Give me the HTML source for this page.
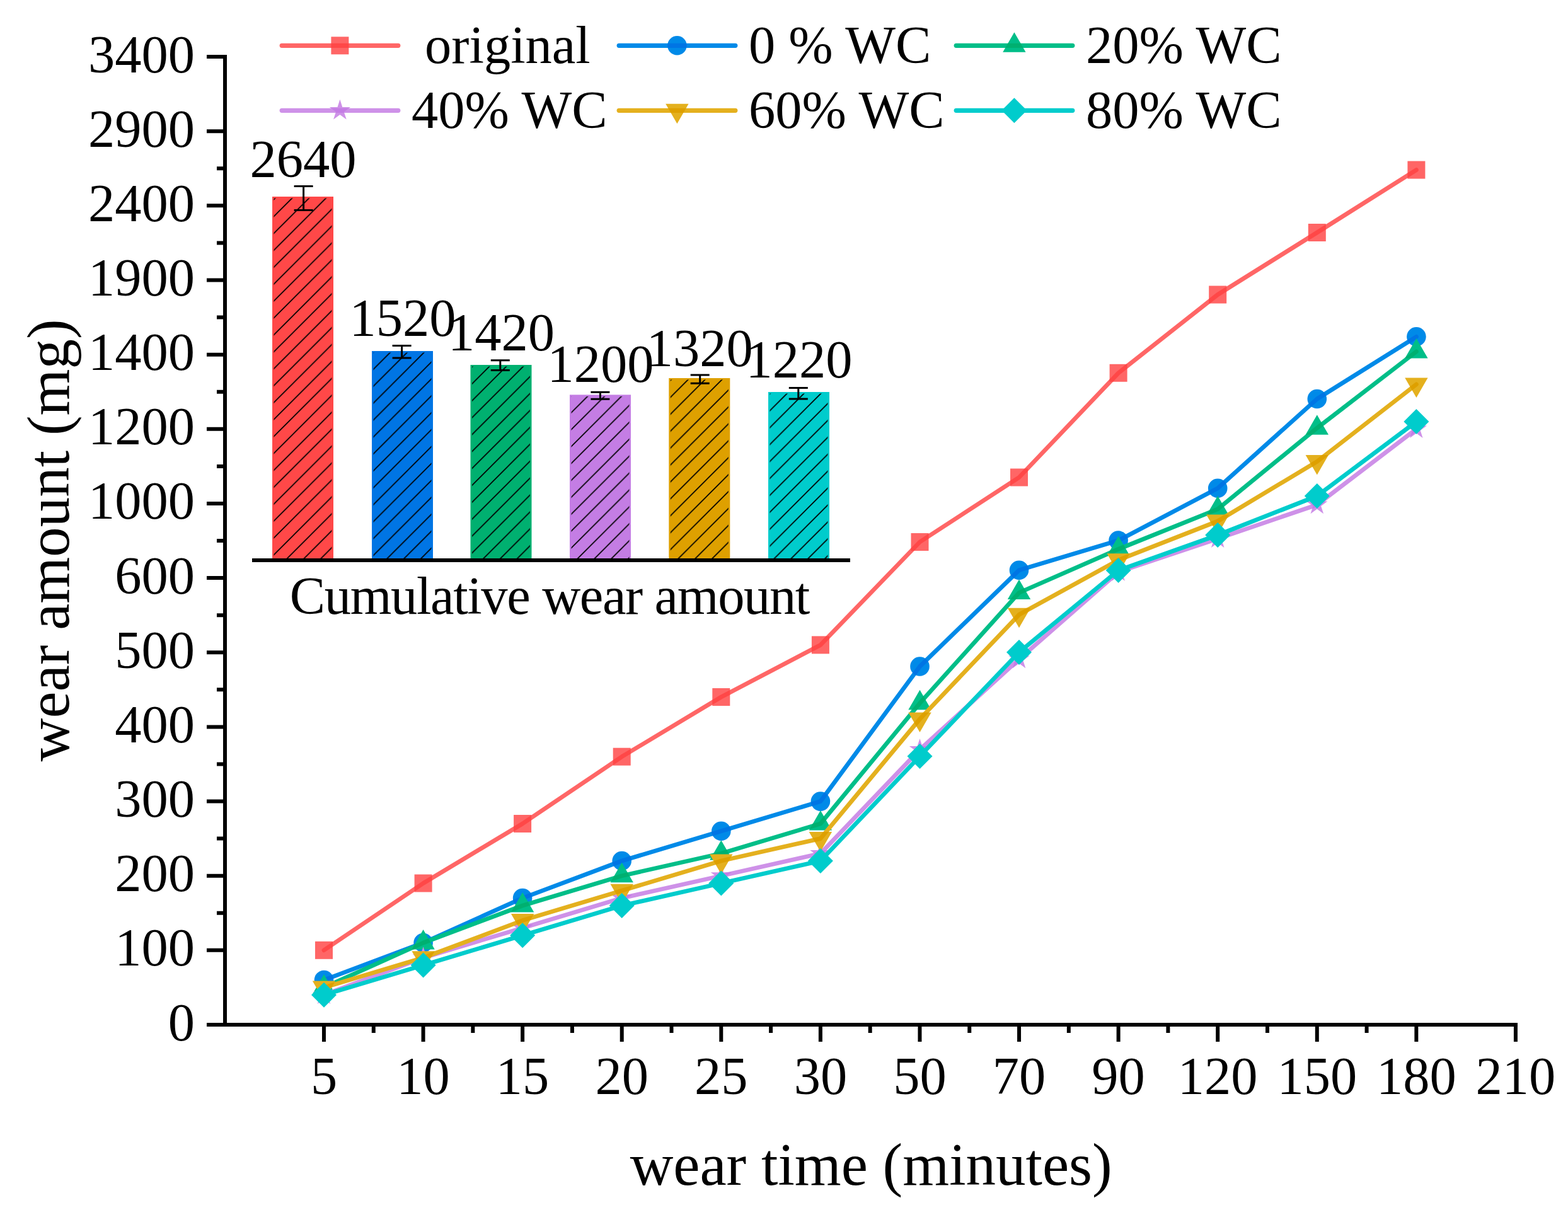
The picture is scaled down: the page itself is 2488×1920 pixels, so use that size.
<!DOCTYPE html><html><head><meta charset="utf-8"><title>wear amount chart</title><style>html,body{margin:0;padding:0;background:#fff;overflow:hidden}svg{display:block}text{font-family:"Liberation Serif","Times New Roman",serif;fill:#000}</style></head><body>
<svg width="2488" height="1920" viewBox="0 0 2488 1920">
<rect width="2488" height="1920" fill="#fff"/>
<defs>
<pattern id="h0" patternUnits="userSpaceOnUse" x="465.90" y="312" width="26.85" height="26.85"><path d="M-2,2L2,-2M0,26.85L26.85,0M24.85,28.85L28.85,24.85" stroke="#000" stroke-width="1.7"/></pattern>
<pattern id="h1" patternUnits="userSpaceOnUse" x="621.40" y="557" width="26.85" height="26.85"><path d="M-2,2L2,-2M0,26.85L26.85,0M24.85,28.85L28.85,24.85" stroke="#000" stroke-width="1.7"/></pattern>
<pattern id="h2" patternUnits="userSpaceOnUse" x="779.00" y="579" width="26.85" height="26.85"><path d="M-2,2L2,-2M0,26.85L26.85,0M24.85,28.85L28.85,24.85" stroke="#000" stroke-width="1.7"/></pattern>
<pattern id="h3" patternUnits="userSpaceOnUse" x="934.80" y="626.4" width="26.85" height="26.85"><path d="M-2,2L2,-2M0,26.85L26.85,0M24.85,28.85L28.85,24.85" stroke="#000" stroke-width="1.7"/></pattern>
<pattern id="h4" patternUnits="userSpaceOnUse" x="1094.20" y="600" width="26.85" height="26.85"><path d="M-2,2L2,-2M0,26.85L26.85,0M24.85,28.85L28.85,24.85" stroke="#000" stroke-width="1.7"/></pattern>
<pattern id="h5" patternUnits="userSpaceOnUse" x="1251.20" y="622" width="26.85" height="26.85"><path d="M-2,2L2,-2M0,26.85L26.85,0M24.85,28.85L28.85,24.85" stroke="#000" stroke-width="1.7"/></pattern>
</defs>
<rect x="432" y="312" width="97" height="577" fill="#FF4848"/>
<rect x="434.5" y="314.5" width="92" height="571.5" fill="url(#h0)"/>
<rect x="590" y="557" width="97" height="332" fill="#0075E4"/>
<rect x="592.5" y="559.5" width="92" height="326.5" fill="url(#h1)"/>
<rect x="746.5" y="579" width="97" height="310" fill="#00B070"/>
<rect x="749.0" y="581.5" width="92" height="304.5" fill="url(#h2)"/>
<rect x="904" y="626.4" width="97" height="262.6" fill="#C47DE4"/>
<rect x="906.5" y="628.9" width="92" height="257.1" fill="url(#h3)"/>
<rect x="1061.3" y="600" width="97" height="289" fill="#DEA000"/>
<rect x="1063.8" y="602.5" width="92" height="283.5" fill="url(#h4)"/>
<rect x="1219" y="622" width="97" height="267" fill="#00CCCC"/>
<rect x="1221.5" y="624.5" width="92" height="261.5" fill="url(#h5)"/>
<path d="M481.6,295.5V333.5M466.6,295.5H496.6M466.6,333.5H496.6" stroke="#000" stroke-width="3" fill="none"/>
<text x="481.0" y="281.2" font-size="84.5" text-anchor="middle">2640</text>
<path d="M637.6,548.5V568M622.6,548.5H652.6M622.6,568H652.6" stroke="#000" stroke-width="3" fill="none"/>
<text x="639.0" y="533.4" font-size="84.5" text-anchor="middle">1520</text>
<path d="M793.8,571.7V587.5M778.8,571.7H808.8M778.8,587.5H808.8" stroke="#000" stroke-width="3" fill="none"/>
<text x="795.5" y="556.2" font-size="84.5" text-anchor="middle">1420</text>
<path d="M952.4,622.3V633.3M937.4,622.3H967.4M937.4,633.3H967.4" stroke="#000" stroke-width="3" fill="none"/>
<text x="953.0" y="605.8" font-size="84.5" text-anchor="middle">1200</text>
<path d="M1110.7,595V608.2M1095.7,595H1125.7M1095.7,608.2H1125.7" stroke="#000" stroke-width="3" fill="none"/>
<text x="1110.3" y="580.5" font-size="84.5" text-anchor="middle">1320</text>
<path d="M1266.8,615.4V633M1251.8,615.4H1281.8M1251.8,633H1281.8" stroke="#000" stroke-width="3" fill="none"/>
<text x="1268.0" y="599.2" font-size="84.5" text-anchor="middle">1220</text>
<rect x="400" y="886" width="949" height="6" fill="#000"/>
<text x="872.5" y="974" font-size="84.5" text-anchor="middle" textLength="825.5" lengthAdjust="spacing">Cumulative wear amount</text>
<rect x="354" y="87" width="6" height="1542" fill="#000"/>
<rect x="354" y="1623" width="2054" height="6" fill="#000"/>
<path d="M328,1626.00H357M328,1507.85H357M328,1389.70H357M328,1271.55H357M328,1153.40H357M328,1035.25H357M328,917.10H357M328,798.95H357M328,680.80H357M328,562.65H357M328,444.50H357M328,326.35H357M328,208.20H357M328,90.05H357M344,1448.78H357M344,1330.62H357M344,1212.47H357M344,1094.32H357M344,976.17H357M344,858.02H357M344,739.88H357M344,621.72H357M344,503.58H357M344,385.42H357M344,267.27H357M513.98,1626V1653M671.56,1626V1653M829.14,1626V1653M986.72,1626V1653M1144.30,1626V1653M1301.88,1626V1653M1459.46,1626V1653M1617.04,1626V1653M1774.62,1626V1653M1932.20,1626V1653M2089.78,1626V1653M2247.36,1626V1653M2404.94,1626V1653M592.77,1626V1639M750.35,1626V1639M907.93,1626V1639M1065.51,1626V1639M1223.09,1626V1639M1380.67,1626V1639M1538.25,1626V1639M1695.83,1626V1639M1853.41,1626V1639M2010.99,1626V1639M2168.57,1626V1639" stroke="#000" stroke-width="6" fill="none"/>
<text x="309" y="1650.5" font-size="84.5" text-anchor="end">0</text>
<text x="309" y="1532.3" font-size="84.5" text-anchor="end">100</text>
<text x="309" y="1414.2" font-size="84.5" text-anchor="end">200</text>
<text x="309" y="1296.0" font-size="84.5" text-anchor="end">300</text>
<text x="309" y="1177.9" font-size="84.5" text-anchor="end">400</text>
<text x="309" y="1059.8" font-size="84.5" text-anchor="end">500</text>
<text x="309" y="941.6" font-size="84.5" text-anchor="end">600</text>
<text x="309" y="823.4" font-size="84.5" text-anchor="end">1000</text>
<text x="309" y="705.3" font-size="84.5" text-anchor="end">1200</text>
<text x="309" y="587.1" font-size="84.5" text-anchor="end">1400</text>
<text x="309" y="469.0" font-size="84.5" text-anchor="end">1900</text>
<text x="309" y="350.8" font-size="84.5" text-anchor="end">2400</text>
<text x="309" y="232.7" font-size="84.5" text-anchor="end">2900</text>
<text x="309" y="114.5" font-size="84.5" text-anchor="end">3400</text>
<text x="514.0" y="1736.2" font-size="84.5" text-anchor="middle">5</text>
<text x="671.6" y="1736.2" font-size="84.5" text-anchor="middle">10</text>
<text x="829.1" y="1736.2" font-size="84.5" text-anchor="middle">15</text>
<text x="986.7" y="1736.2" font-size="84.5" text-anchor="middle">20</text>
<text x="1144.3" y="1736.2" font-size="84.5" text-anchor="middle">25</text>
<text x="1301.9" y="1736.2" font-size="84.5" text-anchor="middle">30</text>
<text x="1459.5" y="1736.2" font-size="84.5" text-anchor="middle">50</text>
<text x="1617.0" y="1736.2" font-size="84.5" text-anchor="middle">70</text>
<text x="1774.6" y="1736.2" font-size="84.5" text-anchor="middle">90</text>
<text x="1932.2" y="1736.2" font-size="84.5" text-anchor="middle">120</text>
<text x="2089.8" y="1736.2" font-size="84.5" text-anchor="middle">150</text>
<text x="2247.4" y="1736.2" font-size="84.5" text-anchor="middle">180</text>
<text x="2404.9" y="1736.2" font-size="84.5" text-anchor="middle">210</text>
<text x="1382.2" y="1880.2" font-size="95" text-anchor="middle">wear time (minutes)</text>
<text transform="translate(109.2,857.3) rotate(-90)" font-size="95" text-anchor="middle">wear amount (mg)</text>
<defs>
<clipPath id="mr"><rect x="500.0" y="1493.8" width="28" height="28"/><rect x="657.6" y="1387.5" width="28" height="28"/><rect x="815.1" y="1293.0" width="28" height="28"/><rect x="972.7" y="1186.7" width="28" height="28"/><rect x="1130.3" y="1092.0" width="28" height="28"/><rect x="1287.9" y="1009.4" width="28" height="28"/><rect x="1445.5" y="846.0" width="28" height="28"/><rect x="1603.0" y="743.5" width="28" height="28"/><rect x="1760.6" y="577.8" width="28" height="28"/><rect x="1918.2" y="453.5" width="28" height="28"/><rect x="2075.8" y="355.0" width="28" height="28"/><rect x="2233.4" y="255.6" width="28" height="28"/></clipPath>
<clipPath id="mb"><circle cx="514.0" cy="1555.1" r="15.3"/><circle cx="671.6" cy="1496.0" r="15.3"/><circle cx="829.1" cy="1425.1" r="15.3"/><circle cx="986.7" cy="1366.0" r="15.3"/><circle cx="1144.3" cy="1318.8" r="15.3"/><circle cx="1301.9" cy="1271.6" r="15.3"/><circle cx="1459.5" cy="1057.5" r="15.3"/><circle cx="1617.0" cy="904.7" r="15.3"/><circle cx="1774.6" cy="857.6" r="15.3"/><circle cx="1932.2" cy="774.7" r="15.3"/><circle cx="2089.8" cy="633.0" r="15.3"/><circle cx="2247.4" cy="534.3" r="15.3"/></clipPath>
<clipPath id="mg"><path d="M514.0,1545.9L532.2,1577.4L495.8,1577.4Z"/><path d="M671.6,1475.0L689.8,1506.5L653.4,1506.5Z"/><path d="M829.1,1416.0L847.3,1447.5L810.9,1447.5Z"/><path d="M986.7,1368.7L1004.9,1400.2L968.5,1400.2Z"/><path d="M1144.3,1333.3L1162.5,1364.8L1126.1,1364.8Z"/><path d="M1301.9,1286.0L1320.1,1317.5L1283.7,1317.5Z"/><path d="M1459.5,1094.8L1477.7,1126.3L1441.3,1126.3Z"/><path d="M1617.0,919.5L1635.2,951.0L1598.8,951.0Z"/><path d="M1774.6,850.4L1792.8,881.9L1756.4,881.9Z"/><path d="M1932.2,786.8L1950.4,818.3L1914.0,818.3Z"/><path d="M2089.8,658.2L2108.0,689.7L2071.6,689.7Z"/><path d="M2247.4,536.9L2265.6,568.4L2229.2,568.4Z"/></clipPath>
<clipPath id="mp"><path d="M514.0,1561.2L517.9,1573.3L530.6,1573.3L520.3,1580.8L524.3,1592.9L514.0,1585.4L503.7,1592.9L507.6,1580.8L497.3,1573.3L510.1,1573.3Z"/><path d="M671.6,1502.2L675.5,1514.3L688.2,1514.3L677.9,1521.8L681.8,1533.9L671.6,1526.4L661.3,1533.9L665.2,1521.8L654.9,1514.3L667.6,1514.3Z"/><path d="M829.1,1454.9L833.1,1467.0L845.8,1467.0L835.5,1474.5L839.4,1486.6L829.1,1479.1L818.9,1486.6L822.8,1474.5L812.5,1467.0L825.2,1467.0Z"/><path d="M986.7,1407.6L990.6,1419.7L1003.4,1419.7L993.1,1427.2L997.0,1439.3L986.7,1431.8L976.4,1439.3L980.4,1427.2L970.1,1419.7L982.8,1419.7Z"/><path d="M1144.3,1372.2L1148.2,1384.3L1160.9,1384.3L1150.7,1391.8L1154.6,1403.9L1144.3,1396.4L1134.0,1403.9L1137.9,1391.8L1127.7,1384.3L1140.4,1384.3Z"/><path d="M1301.9,1336.8L1305.8,1348.9L1318.5,1348.9L1308.2,1356.4L1312.2,1368.5L1301.9,1361.0L1291.6,1368.5L1295.5,1356.4L1285.2,1348.9L1298.0,1348.9Z"/><path d="M1459.5,1171.9L1463.4,1184.0L1476.1,1184.0L1465.8,1191.5L1469.7,1203.6L1459.5,1196.1L1449.2,1203.6L1453.1,1191.5L1442.8,1184.0L1455.5,1184.0Z"/><path d="M1617.0,1028.5L1621.0,1040.6L1633.7,1040.6L1623.4,1048.1L1627.3,1060.2L1617.0,1052.7L1606.8,1060.2L1610.7,1048.1L1600.4,1040.6L1613.1,1040.6Z"/><path d="M1774.6,890.1L1778.5,902.2L1791.3,902.2L1781.0,909.7L1784.9,921.8L1774.6,914.3L1764.3,921.8L1768.3,909.7L1758.0,902.2L1770.7,902.2Z"/><path d="M1932.2,837.2L1936.1,849.3L1948.8,849.3L1938.6,856.8L1942.5,868.9L1932.2,861.4L1921.9,868.9L1925.8,856.8L1915.6,849.3L1928.3,849.3Z"/><path d="M2089.8,783.5L2093.7,795.6L2106.4,795.6L2096.1,803.1L2100.1,815.2L2089.8,807.7L2079.5,815.2L2083.4,803.1L2073.1,795.6L2085.9,795.6Z"/><path d="M2247.4,663.3L2251.3,675.4L2264.0,675.4L2253.7,682.9L2257.6,695.0L2247.4,687.5L2237.1,695.0L2241.0,682.9L2230.7,675.4L2243.4,675.4Z"/></clipPath>
<clipPath id="mo"><path d="M514.0,1587.9L532.2,1556.4L495.8,1556.4Z"/><path d="M671.6,1540.7L689.8,1509.2L653.4,1509.2Z"/><path d="M829.1,1481.6L847.3,1450.1L810.9,1450.1Z"/><path d="M986.7,1434.3L1004.9,1402.8L968.5,1402.8Z"/><path d="M1144.3,1387.0L1162.5,1355.5L1126.1,1355.5Z"/><path d="M1301.9,1351.6L1320.1,1320.1L1283.7,1320.1Z"/><path d="M1459.5,1162.0L1477.7,1130.5L1441.3,1130.5Z"/><path d="M1617.0,996.3L1635.2,964.8L1598.8,964.8Z"/><path d="M1774.6,909.8L1792.8,878.3L1756.4,878.3Z"/><path d="M1932.2,848.0L1950.4,816.5L1914.0,816.5Z"/><path d="M2089.8,753.4L2108.0,721.9L2071.6,721.9Z"/><path d="M2247.4,630.9L2265.6,599.4L2229.2,599.4Z"/></clipPath>
<clipPath id="mt"><path d="M514.0,1558.7L534.0,1578.7L514.0,1598.7L494.0,1578.7Z"/><path d="M671.6,1511.5L691.6,1531.5L671.6,1551.5L651.6,1531.5Z"/><path d="M829.1,1464.2L849.1,1484.2L829.1,1504.2L809.1,1484.2Z"/><path d="M986.7,1417.0L1006.7,1437.0L986.7,1457.0L966.7,1437.0Z"/><path d="M1144.3,1381.5L1164.3,1401.5L1144.3,1421.5L1124.3,1401.5Z"/><path d="M1301.9,1346.0L1321.9,1366.0L1301.9,1386.0L1281.9,1366.0Z"/><path d="M1459.5,1180.0L1479.5,1200.0L1459.5,1220.0L1439.5,1200.0Z"/><path d="M1617.0,1015.0L1637.0,1035.0L1617.0,1055.0L1597.0,1035.0Z"/><path d="M1774.6,885.0L1794.6,905.0L1774.6,925.0L1754.6,905.0Z"/><path d="M1932.2,829.0L1952.2,849.0L1932.2,869.0L1912.2,849.0Z"/><path d="M2089.8,767.0L2109.8,787.0L2089.8,807.0L2069.8,787.0Z"/><path d="M2247.4,649.0L2267.4,669.0L2247.4,689.0L2227.4,669.0Z"/></clipPath>
<clipPath id="lr"><rect x="525.4" y="58.3" width="28" height="28"/></clipPath>
<clipPath id="lb"><circle cx="1074.4" cy="72.3" r="15.3"/></clipPath>
<clipPath id="lg"><path d="M1609.4,51.3L1627.6,82.8L1591.2,82.8Z"/></clipPath>
<clipPath id="lp"><path d="M539.4,157.8L543.3,169.9L556.0,169.9L545.8,177.4L549.7,189.5L539.4,182.0L529.1,189.5L533.0,177.4L522.8,169.9L535.5,169.9Z"/></clipPath>
<clipPath id="lo"><path d="M1074.4,196.3L1092.6,164.8L1056.2,164.8Z"/></clipPath>
<clipPath id="lt"><path d="M1609.4,155.3L1629.4,175.3L1609.4,195.3L1589.4,175.3Z"/></clipPath>
</defs>
<polyline points="514.0,1507.8 671.6,1401.5 829.1,1307.0 986.7,1200.7 1144.3,1106.0 1301.9,1023.4 1459.5,860.0 1617.0,757.5 1774.6,591.8 1932.2,467.5 2089.8,369.0 2247.4,269.6" fill="none" stroke-width="6.8" stroke-linejoin="round" stroke-linecap="round" stroke="#FF6666"/>
<g fill="#FF6666"><rect x="500.0" y="1493.8" width="28" height="28"/><rect x="657.6" y="1387.5" width="28" height="28"/><rect x="815.1" y="1293.0" width="28" height="28"/><rect x="972.7" y="1186.7" width="28" height="28"/><rect x="1130.3" y="1092.0" width="28" height="28"/><rect x="1287.9" y="1009.4" width="28" height="28"/><rect x="1445.5" y="846.0" width="28" height="28"/><rect x="1603.0" y="743.5" width="28" height="28"/><rect x="1760.6" y="577.8" width="28" height="28"/><rect x="1918.2" y="453.5" width="28" height="28"/><rect x="2075.8" y="355.0" width="28" height="28"/><rect x="2233.4" y="255.6" width="28" height="28"/></g>
<polyline points="514.0,1507.8 671.6,1401.5 829.1,1307.0 986.7,1200.7 1144.3,1106.0 1301.9,1023.4 1459.5,860.0 1617.0,757.5 1774.6,591.8 1932.2,467.5 2089.8,369.0 2247.4,269.6" fill="none" stroke-width="6.8" stroke-linejoin="round" stroke-linecap="round" stroke="#FF4848" clip-path="url(#mr)"/>
<polyline points="514.0,1555.1 671.6,1496.0 829.1,1425.1 986.7,1366.0 1144.3,1318.8 1301.9,1271.6 1459.5,1057.5 1617.0,904.7 1774.6,857.6 1932.2,774.7 2089.8,633.0 2247.4,534.3" fill="none" stroke-width="6.8" stroke-linejoin="round" stroke-linecap="round" stroke="#008AE8"/>
<g fill="#008AE8"><circle cx="514.0" cy="1555.1" r="15.3"/><circle cx="671.6" cy="1496.0" r="15.3"/><circle cx="829.1" cy="1425.1" r="15.3"/><circle cx="986.7" cy="1366.0" r="15.3"/><circle cx="1144.3" cy="1318.8" r="15.3"/><circle cx="1301.9" cy="1271.6" r="15.3"/><circle cx="1459.5" cy="1057.5" r="15.3"/><circle cx="1617.0" cy="904.7" r="15.3"/><circle cx="1774.6" cy="857.6" r="15.3"/><circle cx="1932.2" cy="774.7" r="15.3"/><circle cx="2089.8" cy="633.0" r="15.3"/><circle cx="2247.4" cy="534.3" r="15.3"/></g>
<polyline points="514.0,1555.1 671.6,1496.0 829.1,1425.1 986.7,1366.0 1144.3,1318.8 1301.9,1271.6 1459.5,1057.5 1617.0,904.7 1774.6,857.6 1932.2,774.7 2089.8,633.0 2247.4,534.3" fill="none" stroke-width="6.8" stroke-linejoin="round" stroke-linecap="round" stroke="#0075E4" clip-path="url(#mb)"/>
<polyline points="514.0,1566.9 671.6,1496.0 829.1,1437.0 986.7,1389.7 1144.3,1354.3 1301.9,1307.0 1459.5,1115.8 1617.0,940.5 1774.6,871.4 1932.2,807.8 2089.8,679.2 2247.4,557.9" fill="none" stroke-width="6.8" stroke-linejoin="round" stroke-linecap="round" stroke="#00BE88"/>
<g fill="#00BE88"><path d="M514.0,1545.9L532.2,1577.4L495.8,1577.4Z"/><path d="M671.6,1475.0L689.8,1506.5L653.4,1506.5Z"/><path d="M829.1,1416.0L847.3,1447.5L810.9,1447.5Z"/><path d="M986.7,1368.7L1004.9,1400.2L968.5,1400.2Z"/><path d="M1144.3,1333.3L1162.5,1364.8L1126.1,1364.8Z"/><path d="M1301.9,1286.0L1320.1,1317.5L1283.7,1317.5Z"/><path d="M1459.5,1094.8L1477.7,1126.3L1441.3,1126.3Z"/><path d="M1617.0,919.5L1635.2,951.0L1598.8,951.0Z"/><path d="M1774.6,850.4L1792.8,881.9L1756.4,881.9Z"/><path d="M1932.2,786.8L1950.4,818.3L1914.0,818.3Z"/><path d="M2089.8,658.2L2108.0,689.7L2071.6,689.7Z"/><path d="M2247.4,536.9L2265.6,568.4L2229.2,568.4Z"/></g>
<polyline points="514.0,1566.9 671.6,1496.0 829.1,1437.0 986.7,1389.7 1144.3,1354.3 1301.9,1307.0 1459.5,1115.8 1617.0,940.5 1774.6,871.4 1932.2,807.8 2089.8,679.2 2247.4,557.9" fill="none" stroke-width="6.8" stroke-linejoin="round" stroke-linecap="round" stroke="#00B070" clip-path="url(#mg)"/>
<polyline points="514.0,1578.7 671.6,1519.7 829.1,1472.4 986.7,1425.1 1144.3,1389.7 1301.9,1354.3 1459.5,1189.4 1617.0,1046.0 1774.6,907.6 1932.2,854.7 2089.8,801.0 2247.4,680.8" fill="none" stroke-width="6.8" stroke-linejoin="round" stroke-linecap="round" stroke="#CE91E8"/>
<g fill="#CE91E8"><path d="M514.0,1561.2L517.9,1573.3L530.6,1573.3L520.3,1580.8L524.3,1592.9L514.0,1585.4L503.7,1592.9L507.6,1580.8L497.3,1573.3L510.1,1573.3Z"/><path d="M671.6,1502.2L675.5,1514.3L688.2,1514.3L677.9,1521.8L681.8,1533.9L671.6,1526.4L661.3,1533.9L665.2,1521.8L654.9,1514.3L667.6,1514.3Z"/><path d="M829.1,1454.9L833.1,1467.0L845.8,1467.0L835.5,1474.5L839.4,1486.6L829.1,1479.1L818.9,1486.6L822.8,1474.5L812.5,1467.0L825.2,1467.0Z"/><path d="M986.7,1407.6L990.6,1419.7L1003.4,1419.7L993.1,1427.2L997.0,1439.3L986.7,1431.8L976.4,1439.3L980.4,1427.2L970.1,1419.7L982.8,1419.7Z"/><path d="M1144.3,1372.2L1148.2,1384.3L1160.9,1384.3L1150.7,1391.8L1154.6,1403.9L1144.3,1396.4L1134.0,1403.9L1137.9,1391.8L1127.7,1384.3L1140.4,1384.3Z"/><path d="M1301.9,1336.8L1305.8,1348.9L1318.5,1348.9L1308.2,1356.4L1312.2,1368.5L1301.9,1361.0L1291.6,1368.5L1295.5,1356.4L1285.2,1348.9L1298.0,1348.9Z"/><path d="M1459.5,1171.9L1463.4,1184.0L1476.1,1184.0L1465.8,1191.5L1469.7,1203.6L1459.5,1196.1L1449.2,1203.6L1453.1,1191.5L1442.8,1184.0L1455.5,1184.0Z"/><path d="M1617.0,1028.5L1621.0,1040.6L1633.7,1040.6L1623.4,1048.1L1627.3,1060.2L1617.0,1052.7L1606.8,1060.2L1610.7,1048.1L1600.4,1040.6L1613.1,1040.6Z"/><path d="M1774.6,890.1L1778.5,902.2L1791.3,902.2L1781.0,909.7L1784.9,921.8L1774.6,914.3L1764.3,921.8L1768.3,909.7L1758.0,902.2L1770.7,902.2Z"/><path d="M1932.2,837.2L1936.1,849.3L1948.8,849.3L1938.6,856.8L1942.5,868.9L1932.2,861.4L1921.9,868.9L1925.8,856.8L1915.6,849.3L1928.3,849.3Z"/><path d="M2089.8,783.5L2093.7,795.6L2106.4,795.6L2096.1,803.1L2100.1,815.2L2089.8,807.7L2079.5,815.2L2083.4,803.1L2073.1,795.6L2085.9,795.6Z"/><path d="M2247.4,663.3L2251.3,675.4L2264.0,675.4L2253.7,682.9L2257.6,695.0L2247.4,687.5L2237.1,695.0L2241.0,682.9L2230.7,675.4L2243.4,675.4Z"/></g>
<polyline points="514.0,1578.7 671.6,1519.7 829.1,1472.4 986.7,1425.1 1144.3,1389.7 1301.9,1354.3 1459.5,1189.4 1617.0,1046.0 1774.6,907.6 1932.2,854.7 2089.8,801.0 2247.4,680.8" fill="none" stroke-width="6.8" stroke-linejoin="round" stroke-linecap="round" stroke="#C47DE4" clip-path="url(#mp)"/>
<polyline points="514.0,1566.9 671.6,1519.7 829.1,1460.6 986.7,1413.3 1144.3,1366.0 1301.9,1330.6 1459.5,1141.0 1617.0,975.3 1774.6,888.8 1932.2,827.0 2089.8,732.4 2247.4,609.9" fill="none" stroke-width="6.8" stroke-linejoin="round" stroke-linecap="round" stroke="#E4B01E"/>
<g fill="#E4B01E"><path d="M514.0,1587.9L532.2,1556.4L495.8,1556.4Z"/><path d="M671.6,1540.7L689.8,1509.2L653.4,1509.2Z"/><path d="M829.1,1481.6L847.3,1450.1L810.9,1450.1Z"/><path d="M986.7,1434.3L1004.9,1402.8L968.5,1402.8Z"/><path d="M1144.3,1387.0L1162.5,1355.5L1126.1,1355.5Z"/><path d="M1301.9,1351.6L1320.1,1320.1L1283.7,1320.1Z"/><path d="M1459.5,1162.0L1477.7,1130.5L1441.3,1130.5Z"/><path d="M1617.0,996.3L1635.2,964.8L1598.8,964.8Z"/><path d="M1774.6,909.8L1792.8,878.3L1756.4,878.3Z"/><path d="M1932.2,848.0L1950.4,816.5L1914.0,816.5Z"/><path d="M2089.8,753.4L2108.0,721.9L2071.6,721.9Z"/><path d="M2247.4,630.9L2265.6,599.4L2229.2,599.4Z"/></g>
<polyline points="514.0,1566.9 671.6,1519.7 829.1,1460.6 986.7,1413.3 1144.3,1366.0 1301.9,1330.6 1459.5,1141.0 1617.0,975.3 1774.6,888.8 1932.2,827.0 2089.8,732.4 2247.4,609.9" fill="none" stroke-width="6.8" stroke-linejoin="round" stroke-linecap="round" stroke="#DEA000" clip-path="url(#mo)"/>
<polyline points="514.0,1578.7 671.6,1531.5 829.1,1484.2 986.7,1437.0 1144.3,1401.5 1301.9,1366.0 1459.5,1200.0 1617.0,1035.0 1774.6,905.0 1932.2,849.0 2089.8,787.0 2247.4,669.0" fill="none" stroke-width="6.8" stroke-linejoin="round" stroke-linecap="round" stroke="#00CCCC"/>
<g fill="#00CCCC"><path d="M514.0,1558.7L534.0,1578.7L514.0,1598.7L494.0,1578.7Z"/><path d="M671.6,1511.5L691.6,1531.5L671.6,1551.5L651.6,1531.5Z"/><path d="M829.1,1464.2L849.1,1484.2L829.1,1504.2L809.1,1484.2Z"/><path d="M986.7,1417.0L1006.7,1437.0L986.7,1457.0L966.7,1437.0Z"/><path d="M1144.3,1381.5L1164.3,1401.5L1144.3,1421.5L1124.3,1401.5Z"/><path d="M1301.9,1346.0L1321.9,1366.0L1301.9,1386.0L1281.9,1366.0Z"/><path d="M1459.5,1180.0L1479.5,1200.0L1459.5,1220.0L1439.5,1200.0Z"/><path d="M1617.0,1015.0L1637.0,1035.0L1617.0,1055.0L1597.0,1035.0Z"/><path d="M1774.6,885.0L1794.6,905.0L1774.6,925.0L1754.6,905.0Z"/><path d="M1932.2,829.0L1952.2,849.0L1932.2,869.0L1912.2,849.0Z"/><path d="M2089.8,767.0L2109.8,787.0L2089.8,807.0L2069.8,787.0Z"/><path d="M2247.4,649.0L2267.4,669.0L2247.4,689.0L2227.4,669.0Z"/></g>
<line x1="447.2" y1="72.3" x2="631.8" y2="72.3" stroke-width="7.2" stroke-linecap="round" stroke="#FF6666"/>
<rect x="525.4" y="58.3" width="28" height="28" fill="#FF6666"/>
<line x1="447.2" y1="72.3" x2="631.8" y2="72.3" stroke-width="7.2" stroke-linecap="round" stroke="#FF4848" clip-path="url(#lr)"/>
<text x="652.9" y="99.7" font-size="84.5" xml:space="preserve"> original</text>
<line x1="982.2" y1="72.3" x2="1166.8" y2="72.3" stroke-width="7.2" stroke-linecap="round" stroke="#008AE8"/>
<circle cx="1074.4" cy="72.3" r="15.3" fill="#008AE8"/>
<line x1="982.2" y1="72.3" x2="1166.8" y2="72.3" stroke-width="7.2" stroke-linecap="round" stroke="#0075E4" clip-path="url(#lb)"/>
<text x="1187.9" y="99.7" font-size="84.5" xml:space="preserve">0 % WC</text>
<line x1="1517.2" y1="72.3" x2="1701.8" y2="72.3" stroke-width="7.2" stroke-linecap="round" stroke="#00BE88"/>
<path d="M1609.4,51.3L1627.6,82.8L1591.2,82.8Z" fill="#00BE88"/>
<line x1="1517.2" y1="72.3" x2="1701.8" y2="72.3" stroke-width="7.2" stroke-linecap="round" stroke="#00B070" clip-path="url(#lg)"/>
<text x="1722.9" y="99.7" font-size="84.5" xml:space="preserve">20% WC</text>
<line x1="447.2" y1="175.3" x2="631.8" y2="175.3" stroke-width="7.2" stroke-linecap="round" stroke="#CE91E8"/>
<path d="M539.4,157.8L543.3,169.9L556.0,169.9L545.8,177.4L549.7,189.5L539.4,182.0L529.1,189.5L533.0,177.4L522.8,169.9L535.5,169.9Z" fill="#CE91E8"/>
<line x1="447.2" y1="175.3" x2="631.8" y2="175.3" stroke-width="7.2" stroke-linecap="round" stroke="#C47DE4" clip-path="url(#lp)"/>
<text x="652.9" y="203.2" font-size="84.5" xml:space="preserve">40% WC</text>
<line x1="982.2" y1="175.3" x2="1166.8" y2="175.3" stroke-width="7.2" stroke-linecap="round" stroke="#E4B01E"/>
<path d="M1074.4,196.3L1092.6,164.8L1056.2,164.8Z" fill="#E4B01E"/>
<line x1="982.2" y1="175.3" x2="1166.8" y2="175.3" stroke-width="7.2" stroke-linecap="round" stroke="#DEA000" clip-path="url(#lo)"/>
<text x="1187.9" y="203.2" font-size="84.5" xml:space="preserve">60% WC</text>
<line x1="1517.2" y1="175.3" x2="1701.8" y2="175.3" stroke-width="7.2" stroke-linecap="round" stroke="#00CCCC"/>
<path d="M1609.4,155.3L1629.4,175.3L1609.4,195.3L1589.4,175.3Z" fill="#00CCCC"/>
<text x="1722.9" y="203.2" font-size="84.5" xml:space="preserve">80% WC</text>
</svg></body></html>
